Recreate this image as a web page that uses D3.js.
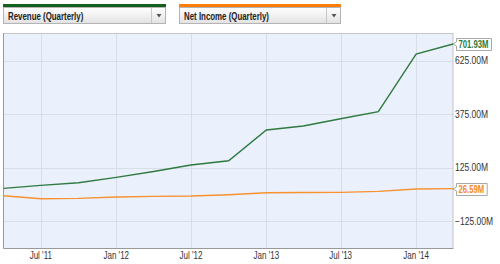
<!DOCTYPE html>
<html>
<head>
<meta charset="utf-8">
<script src="https://cdn.jsdelivr.net/npm/d3@7"></script>
<style>
  body { margin: 0; background: #fff; font-family: "Liberation Sans", Arial, sans-serif; }
  svg { display: block; }
</style>
</head>
<body>
<div id="chart"></div>
<script>
var quarters = ["2011-04-01","2011-07-01","2011-10-01","2012-01-01","2012-04-01","2012-07-01",
                "2012-10-01","2013-01-01","2013-04-01","2013-07-01","2013-10-01","2014-01-01","2014-04-01"];
var revenue = [27.8, 41.8, 54.0, 79.2, 106.3, 136.7, 156.8, 300.2, 318.9, 353.0, 385.7, 655.4, 701.93];
var netIncome = [-6.8, -20.8, -19.0, -13.0, -9.6, -8.0, -2.0, 7.2, 8.0, 9.0, 13.5, 24.5, 26.59];
var yTicks = [-125, 125, 375, 625];
var xTicks = ["2011-07-01","2012-01-01","2012-07-01","2013-01-01","2013-07-01","2014-01-01"];
var seriesNames = ["Revenue (Quarterly)", "Net Income (Quarterly)"];
var seriesColors = ["#2f7a3f", "#f7922f"];
var headColors = ["#155f1e", "#ff7f0a"];

var W = 500, H = 264;
var plotL = 3.5, plotR = 453, plotT = 33, plotB = 248;
var parse = d3.timeParse("%Y-%m-%d");

// squeeze text horizontally, the reference font is narrower than Liberation Sans
function narrow(sel, k) {
  sel.each(function() {
    var len = this.getComputedTextLength();
    d3.select(this)
      .attr("textLength", len * k)
      .attr("lengthAdjust", "spacingAndGlyphs");
  });
}

var svg = d3.select("#chart").append("svg")
    .attr("width", W)
    .attr("height", H);

var defs = svg.append("defs");
var grad = defs.append("linearGradient")
    .attr("id", "boxGrad")
    .attr("x1", 0).attr("y1", 0).attr("x2", 0).attr("y2", 1);
grad.append("stop").attr("offset", "0").attr("stop-color", "#ffffff");
grad.append("stop").attr("offset", "1").attr("stop-color", "#e2e2e2");

// dropdown headers
var boxes = [{x: 3, w: 163}, {x: 179, w: 162}];
boxes.forEach(function(b, i) {
  var g = svg.append("g").attr("transform", "translate(" + b.x + ",4)");
  g.append("rect")
    .attr("x", 0).attr("y", 0)
    .attr("width", b.w).attr("height", 3.5)
    .attr("fill", headColors[i]);
  g.append("rect")
    .attr("x", 0.5).attr("y", 3.5)
    .attr("width", b.w - 1).attr("height", 16)
    .attr("fill", "url(#boxGrad)")
    .attr("stroke", "#b4b4b4");
  g.append("line")
    .attr("x1", b.w - 14.5).attr("x2", b.w - 14.5)
    .attr("y1", 4).attr("y2", 19)
    .attr("stroke", "#c8c8c8");
  g.append("path")
    .attr("d", "M" + (b.w - 9.5) + ",10 h5 l-2.5,3.5 z")
    .attr("fill", "#555");
  g.append("text")
    .attr("x", 5).attr("y", 15.5)
    .style("font-size", "10.5px")
    .style("font-weight", "bold")
    .attr("fill", "#222")
    .text(seriesNames[i])
    .call(narrow, 0.75);
});

var x = d3.scaleTime()
    .domain([parse("2011-04-01"), parse("2014-04-01")])
    .range([plotL, plotR]);
var y = d3.scaleLinear()
    .domain([-251, 753.5])
    .range([plotB, plotT]);

svg.append("rect")
    .attr("x", plotL).attr("y", plotT)
    .attr("width", plotR - plotL).attr("height", plotB - plotT)
    .attr("fill", "#eaf0fc");

// grid
svg.append("g")
  .selectAll("line")
  .data(yTicks)
  .enter().append("line")
    .attr("x1", plotL).attr("x2", plotR)
    .attr("y1", function(d) { return Math.round(y(d)) + 0.5; })
    .attr("y2", function(d) { return Math.round(y(d)) + 0.5; })
    .attr("stroke", "#d9dde5");

svg.append("g")
  .selectAll("line")
  .data(xTicks)
  .enter().append("line")
    .attr("x1", function(d) { return Math.round(x(parse(d))) + 0.5; })
    .attr("x2", function(d) { return Math.round(x(parse(d))) + 0.5; })
    .attr("y1", plotT).attr("y2", plotB)
    .attr("stroke", "#d9dde5");

// borders
svg.append("line").attr("x1", plotL).attr("x2", plotR).attr("y1", plotT + 0.5).attr("y2", plotT + 0.5).attr("stroke", "#c6c6c6");
svg.append("line").attr("x1", plotR).attr("x2", plotR).attr("y1", plotT).attr("y2", plotB).attr("stroke", "#c6c6c6");
svg.append("line").attr("x1", plotL).attr("x2", plotL).attr("y1", plotT).attr("y2", plotB + 0.5).attr("stroke", "#999");
svg.append("line").attr("x1", plotL).attr("x2", plotR + 0.5).attr("y1", plotB + 0.5).attr("y2", plotB + 0.5).attr("stroke", "#999");

// axis labels
svg.append("g")
  .selectAll("text")
  .data(xTicks)
  .enter().append("text")
    .attr("x", function(d) { return x(parse(d)); })
    .attr("y", 259)
    .attr("text-anchor", "middle")
    .style("font-size", "10px")
    .attr("fill", "#333")
    .text(function(d) { return d3.timeFormat("%b '%y")(parse(d)); })
    .call(narrow, 0.8);

svg.append("g")
  .selectAll("text")
  .data(yTicks)
  .enter().append("text")
    .attr("x", 455)
    .attr("y", function(d) { return y(d) + 3.5; })
    .style("font-size", "10px")
    .attr("fill", "#333")
    .text(function(d) { return d3.format(".2f")(d) + "M"; })
    .call(narrow, 0.85);

// lines
var line = d3.line()
    .x(function(d) { return x(d.date); })
    .y(function(d) { return y(d.v); });

[revenue, netIncome].forEach(function(vals, i) {
  var data = quarters.map(function(q, k) { return {date: parse(q), v: vals[k]}; });
  svg.append("path")
    .datum(data)
    .attr("fill", "none")
    .attr("stroke", seriesColors[i])
    .attr("stroke-width", 1.4)
    .attr("d", line);

  var last = data[data.length - 1];
  var ly = Math.round(y(last.v));
  var label = d3.format(".2f")(last.v) + "M";
  var fg = svg.append("g").attr("transform", "translate(456," + ly + ")");
  var t = fg.append("text")
    .attr("x", 2.5).attr("y", 3.5)
    .style("font-size", "10px")
    .style("font-weight", "bold")
    .attr("fill", i == 0 ? "#2a7a3a" : "#f7882a")
    .text(label)
    .call(narrow, 0.77);
  var tw = +t.attr("textLength");
  fg.insert("path", "text")
    .attr("d", "M0.5,-5.5 H" + (tw + 5.5) + " V6.5 H0.5 V2 L-3,0 L0.5,-2 Z")
    .attr("fill", "#fff")
    .attr("stroke", "#a8a8a8");
});
</script>
</body>
</html>
